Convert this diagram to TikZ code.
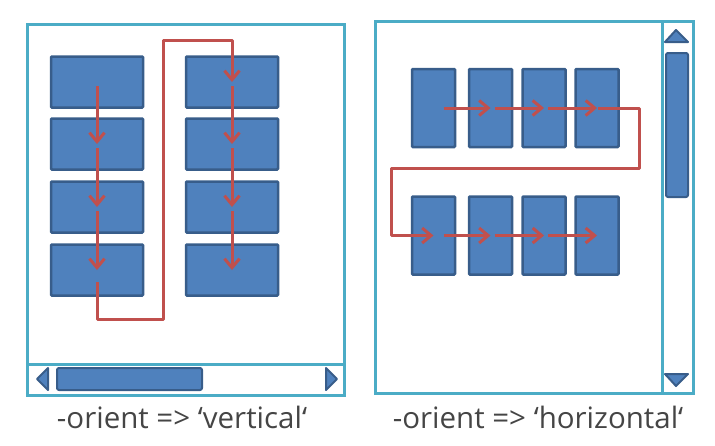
\documentclass[tikz,border=0pt]{standalone}
\usepackage{fontspec}
\setmainfont{Open Sans}
\usetikzlibrary{arrows.meta}
\definecolor{boxfill}{HTML}{4F81BD}
\definecolor{boxline}{HTML}{385D8A}
\definecolor{framecol}{HTML}{4BACC6}
\definecolor{flowred}{HTML}{C0504D}
\definecolor{captext}{HTML}{454545}
\tikzset{
  item/.style={draw=boxline, fill=boxfill, line width=2.5pt, rounded corners=1pt, inner sep=0pt},
  wide/.style={item, minimum width=92pt, minimum height=51pt},
  tall/.style={item, minimum width=43pt, minimum height=78pt},
  frame/.style={draw=framecol, line width=3pt},
  knob/.style={draw=boxline, fill=boxfill, line width=2pt, line join=round},
  flow/.style={draw=flowred, line width=3pt, shorten <=4pt,
    -{Straight Barb[length=9pt,width=15pt,line width=3pt]}},
  caption/.style={text=captext, font=\fontsize{29.5}{34}\selectfont, inner sep=0pt, anchor=base}
}
\begin{document}
\begin{tikzpicture}[x=1pt,y=-1pt]
  \useasboundingbox (0,0) rectangle (715,445);

  % -orient => vertical
  \draw[frame] (27,24) rectangle (344,395);
  \draw[frame] (27,364) -- (344,364);
  \draw[knob] (37,379) -- (48,368) -- (48,390) -- cycle;
  \draw[knob] (337,379) -- (326,368) -- (326,390) -- cycle;
  \draw[knob, rounded corners=2pt] (57,368) rectangle (202,390);

  \node[wide] (a1) at (97,82) {};
  \node[wide] (a2) at (97,144) {};
  \node[wide] (a3) at (97,207) {};
  \node[wide] (a4) at (97,270) {};
  \node[wide] (b1) at (232,82) {};
  \node[wide] (b2) at (232,144) {};
  \node[wide] (b3) at (232,207) {};
  \node[wide] (b4) at (232,270) {};

  \coordinate (turnA) at (163,319);
  \coordinate (turnB) at (163,40);
  \draw[flow] (a1.center) -- (a2.center);
  \draw[flow] (a2.center) -- (a3.center);
  \draw[flow] (a3.center) -- (a4.center);
  \draw[flow, shorten <=12pt, line join=round] (a4.center) |- (turnA) -- (turnB) -| (b1.center);
  \draw[flow] (b1.center) -- (b2.center);
  \draw[flow] (b2.center) -- (b3.center);
  \draw[flow] (b3.center) -- (b4.center);

  \node[caption] (capV) at (182,428) {-orient => ‘vertical‘};

  % -orient => horizontal
  \draw[frame] (375,21) rectangle (693,393);
  \draw[frame] (662,21) -- (662,393);
  \draw[knob] (676,30) -- (665,42) -- (688,42) -- cycle;
  \draw[knob] (676,386) -- (665,374) -- (688,374) -- cycle;
  \draw[knob, rounded corners=2pt] (666,53) rectangle (688,197);

  \node[tall] (h1) at (433.5,108) {};
  \node[tall] (h2) at (490.5,108) {};
  \node[tall] (h3) at (544,108) {};
  \node[tall] (h4) at (597,108) {};
  \node[tall] (k1) at (433.5,235.5) {};
  \node[tall] (k2) at (490.5,235.5) {};
  \node[tall] (k3) at (544,235.5) {};
  \node[tall] (k4) at (597,235.5) {};

  \coordinate (turnC) at (639,168);
  \coordinate (turnD) at (391,168);
  \draw[flow, shorten <=10pt] (h1.center) -- (h2.center);
  \draw[flow] (h2.center) -- (h3.center);
  \draw[flow] (h3.center) -- (h4.center);
  \draw[flow, shorten <=1pt, line join=round] (h4.center) -| (turnC) -- (turnD) |- (k1.center);
  \draw[flow, shorten <=10pt] (k1.center) -- (k2.center);
  \draw[flow] (k2.center) -- (k3.center);
  \draw[flow] (k3.center) -- (k4.center);

  \node[caption] (capH) at (538,428) {-orient => ‘horizontal‘};
\end{tikzpicture}
\end{document}
